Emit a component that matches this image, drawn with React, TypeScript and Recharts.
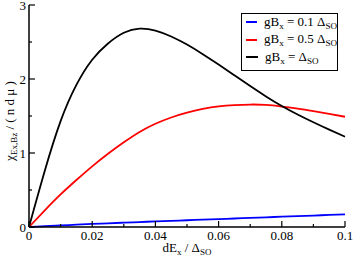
import React from "react";
import { LineChart, Line, XAxis, YAxis, Legend, Label } from "recharts";

// values
const xs = [0, 0.005, 0.01, 0.015, 0.02, 0.025, 0.03, 0.035, 0.04, 0.045, 0.05, 0.055, 0.06, 0.065, 0.07, 0.075, 0.08, 0.085, 0.09, 0.095, 0.1];
const blueVals = [0, 0.0105, 0.021, 0.031, 0.041, 0.05, 0.059, 0.067, 0.075, 0.083, 0.091, 0.099, 0.107, 0.115, 0.123, 0.131, 0.139, 0.147, 0.155, 0.163, 0.171];
const redVals = [0, 0.225, 0.44, 0.635, 0.82, 0.99, 1.145, 1.285, 1.395, 1.48, 1.545, 1.595, 1.63, 1.648, 1.655, 1.65, 1.628, 1.6, 1.566, 1.529, 1.49];
const blackVals = [0, 0.76, 1.43, 1.92, 2.26, 2.48, 2.625, 2.68, 2.655, 2.575, 2.465, 2.335, 2.195, 2.05, 1.905, 1.765, 1.635, 1.52, 1.415, 1.315, 1.22];

const xTicks = [0, 0.01, 0.02, 0.03, 0.04, 0.05, 0.06, 0.07, 0.08, 0.09, 0.1];
const xLabels: Record<string, string> = { "0": "0", "0.02": "0.02", "0.04": "0.04", "0.06": "0.06", "0.08": "0.08", "0.1": "0.1" };
const yTicks = [0, 0.5, 1, 1.5, 2, 2.5, 3];
const yLabels: Record<string, string> = { "0": "0", "1": "1", "2": "2", "3": "3" };

const data = xs.map((x, i) => ({ x, blue: blueVals[i], red: redVals[i], black: blackVals[i] }));

const FONT = '"Liberation Serif", "Times New Roman", serif';
const txt: React.CSSProperties = { fontFamily: FONT, fontSize: 13 };
const MAJOR = 6;
const MINOR = 3;

const BottomTick = ({ x, y, payload }: any) => {
  const label = xLabels[String(payload.value)];
  return (
    <g>
      <line x1={x} x2={x} y1={y} y2={y - (label ? MAJOR : MINOR)} stroke="#000" strokeWidth={1.2} />
      {label && (
        <text x={x} y={y + 13} textAnchor="middle" style={txt} fill="#000">
          {label}
        </text>
      )}
    </g>
  );
};

const TopTick = ({ x, y, payload }: any) => {
  const major = xLabels[String(payload.value)] !== undefined;
  return <line x1={x} x2={x} y1={y} y2={y + (major ? MAJOR : MINOR)} stroke="#000" strokeWidth={1.2} />;
};

const LeftTick = ({ x, y, payload }: any) => {
  const label = yLabels[String(payload.value)];
  return (
    <g>
      <line x1={x} x2={x + (label ? MAJOR : MINOR)} y1={y} y2={y} stroke="#000" strokeWidth={1.2} />
      {label && (
        <text x={x - 3} y={y + 4.5} textAnchor="end" style={txt} fill="#000">
          {label}
        </text>
      )}
    </g>
  );
};

const RightTick = ({ x, y, payload }: any) => {
  const major = yLabels[String(payload.value)] !== undefined;
  return <line x1={x} x2={x - (major ? MAJOR : MINOR)} y1={y} y2={y} stroke="#000" strokeWidth={1.2} />;
};

const XTitle = ({ viewBox }: any) => {
  const cx = viewBox.x + viewBox.width / 2;
  return (
    <text x={cx} y={viewBox.y + 25} textAnchor="middle" style={txt} fill="#000">
      dE
      <tspan fontSize={9} dy={3}>x</tspan>
      <tspan fontSize={13} dy={-3}> / Δ</tspan>
      <tspan fontSize={9} dy={3}>SO</tspan>
    </text>
  );
};

const YTitle = ({ viewBox }: any) => {
  const cy = viewBox.y + viewBox.height / 2 + 5;
  const cx = 14;
  return (
    <text x={cx} y={cy} textAnchor="middle" transform={`rotate(-90 ${cx} ${cy})`} style={txt} fill="#000">
      χ
      <tspan fontSize={9} dy={3}>Ex,Bz</tspan>
      <tspan fontSize={13} dy={-3}> / ( n d μ )</tspan>
    </text>
  );
};

const sub: React.CSSProperties = { fontSize: "0.7em", position: "relative", top: "0.35em" };

const LEGEND_ROWS = [
  { color: "#0000ff", value: "= 0.1 Δ" },
  { color: "#ff0000", value: "= 0.5 Δ" },
  { color: "#000000", value: "= Δ" },
];

const LegendBox = () => (
  <div
    style={{
      border: "1px solid #000",
      background: "#fff",
      fontFamily: FONT,
      fontSize: 13,
      lineHeight: "18.5px",
      padding: "0 0 0 4px",
      boxSizing: "border-box",
      width: 97,
      height: 58,
    }}
  >
    {LEGEND_ROWS.map((r) => (
      <div key={r.color} style={{ display: "flex", alignItems: "center", height: 18.5, marginTop: -1 }}>
        <span style={{ display: "inline-block", width: 12, height: 2, background: r.color, marginRight: 7 }} />
        <span style={{ whiteSpace: "nowrap" }}>
          gB<span style={sub}>x</span> {r.value}
          <span style={sub}>SO</span>
        </span>
      </div>
    ))}
  </div>
);

export default function App() {
  return (
    <div style={{ position: "absolute", left: 0, top: 0, background: "#fff" }}>
      <LineChart width={354} height={258} data={data} margin={{ top: 5, right: 9, bottom: 0, left: 0 }}>
        <XAxis
          dataKey="x"
          type="number"
          domain={[0, 0.1]}
          ticks={xTicks}
          interval={0}
          height={31}
          tickSize={0}
          tickMargin={0}
          tick={BottomTick}
          axisLine={{ stroke: "#000", strokeWidth: 1.5 }}
          tickLine={false}
        >
          <Label content={XTitle} />
        </XAxis>
        <XAxis
          xAxisId="top"
          orientation="top"
          dataKey="x"
          type="number"
          domain={[0, 0.1]}
          ticks={xTicks}
          interval={0}
          height={0}
          tickSize={0}
          tickMargin={0}
          tick={TopTick}
          axisLine={{ stroke: "#000", strokeWidth: 1.5 }}
          tickLine={false}
        />
        <YAxis
          type="number"
          domain={[0, 3]}
          ticks={yTicks}
          interval={0}
          width={29}
          tickSize={0}
          tickMargin={0}
          tick={LeftTick}
          axisLine={{ stroke: "#000", strokeWidth: 1.5 }}
          tickLine={false}
        >
          <Label content={YTitle} />
        </YAxis>
        <YAxis
          yAxisId="right"
          orientation="right"
          type="number"
          domain={[0, 3]}
          ticks={yTicks}
          interval={0}
          width={0}
          tickSize={0}
          tickMargin={0}
          tick={RightTick}
          axisLine={{ stroke: "#000", strokeWidth: 1.5 }}
          tickLine={false}
        />
        <Line dataKey="blue" type="natural" stroke="#0000ff" strokeWidth={1.8} dot={false} isAnimationActive={false} />
        <Line dataKey="red" type="natural" stroke="#ff0000" strokeWidth={1.8} dot={false} isAnimationActive={false} />
        <Line dataKey="black" type="natural" stroke="#000000" strokeWidth={1.8} dot={false} isAnimationActive={false} />
        <Legend
          layout="vertical"
          align="center"
          verticalAlign="middle"
          content={LegendBox}
          wrapperStyle={{ left: 241, top: 13, width: 97, height: 58 }}
        />
      </LineChart>
    </div>
  );
}
